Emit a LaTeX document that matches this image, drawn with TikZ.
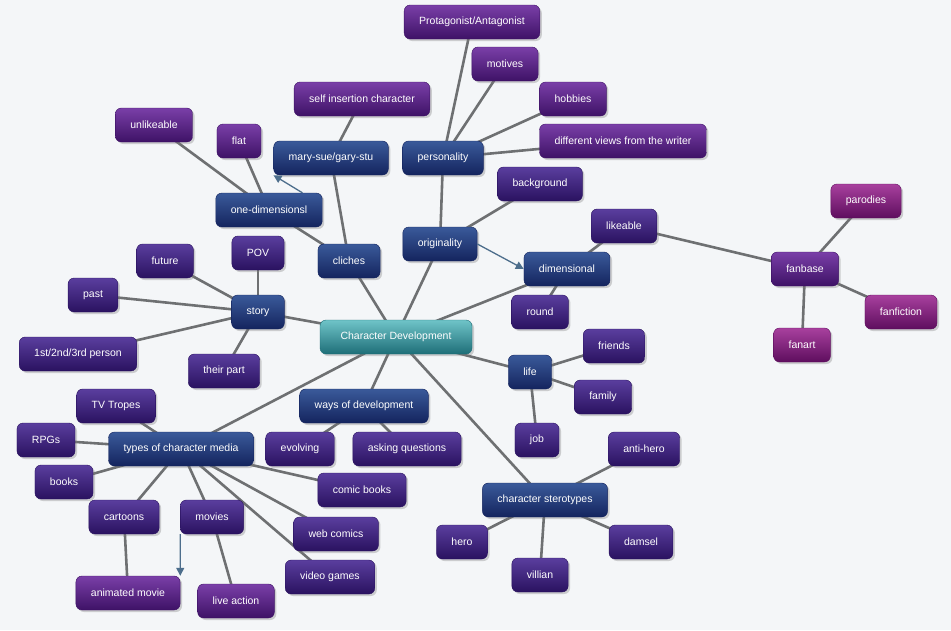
\documentclass[tikz,border=0pt]{standalone}
\usepackage{fontspec}
\setmainfont{Liberation Sans}
\usetikzlibrary{backgrounds,shadows,arrows.meta}
\definecolor{bgc}{HTML}{F4F6F8}
\definecolor{edge}{HTML}{6E7072}
\definecolor{arr}{HTML}{4D6E8C}
\definecolor{midT}{HTML}{3A5A9A}\definecolor{midB}{HTML}{14245E}
\definecolor{leafT}{HTML}{5A3E9E}\definecolor{leafB}{HTML}{2A1260}
\definecolor{leafpT}{HTML}{7A3FA8}\definecolor{leafpB}{HTML}{3E1266}
\definecolor{fanT}{HTML}{A8409E}\definecolor{fanB}{HTML}{5E0E5E}
\definecolor{cenT}{HTML}{6FC4C8}\definecolor{cenB}{HTML}{1E6E78}
\tikzset{
 box/.style={rounded corners=6pt,minimum height=34pt,inner xsep=15pt,text=white,font=\fontsize{10.5}{12}\selectfont,drop shadow={opacity=0.35,shadow xshift=2pt,shadow yshift=-2pt}},
 mid/.style={box,top color=midT,bottom color=midB,draw=midB},
 leaf/.style={box,top color=leafT,bottom color=leafB,draw=leafB},
 leafp/.style={box,top color=leafpT,bottom color=leafpB,draw=leafpB},
 fan/.style={box,top color=fanT,bottom color=fanB,draw=fanB},
 center/.style={box,top color=cenT,bottom color=cenB,draw=cenB,minimum width=152pt},
 ln/.style={edge,line width=2.6pt},
 ar/.style={arr,line width=1.3pt,-{Triangle[length=8pt,width=8pt]}},
}
\begin{document}
\begin{tikzpicture}[x=1pt,y=-1pt]
\useasboundingbox (0,0) rectangle (951,630);
\node[leafp] (prot) at (472,22) {Protagonist/Antagonist};
\node[leafp] (mot) at (505,64) {motives};
\node[leafp] (hob) at (573,99) {hobbies};
\node[leafp] (diff) at (623,141) {different views from the writer};
\node[leafp] (self) at (362,99) {self insertion character};
\node[leafp] (unl) at (154,125) {unlikeable};
\node[leafp] (flat) at (239,141) {flat};
\node[mid] (mary) at (331,158) {mary-sue/gary-stu};
\node[mid] (pers) at (443,158) {personality};
\node[leaf] (back) at (540,184) {background};
\node[mid] (one) at (269,210) {one-dimensionsl};
\node[fan] (par) at (866,201) {parodies};
\node[leaf] (like) at (624,226) {likeable};
\node[mid] (orig) at (440,244) {originality};
\node[mid] (cli) at (349,261) {cliches};
\node[leaf] (pov) at (258,253) {POV};
\node[leaf] (fut) at (165,261) {future};
\node[mid] (dim) at (567,269) {dimensional};
\node[leafp] (fanb) at (805,269) {fanbase};
\node[leaf] (past) at (93,295) {past};
\node[mid] (story) at (258,312) {story};
\node[leaf] (round) at (540,312) {round};
\node[fan] (ffic) at (901,312) {fanfiction};
\node[center] (cd) at (396,337) {Character Development};
\node[fan] (fart) at (802,345) {fanart};
\node[leaf] (pers3) at (78,354) {1st/2nd/3rd person};
\node[leaf] (fri) at (614,346) {friends};
\node[leaf] (their) at (224,371) {their part};
\node[mid] (life) at (530,372) {life};
\node[leaf] (fam) at (603,397) {family};
\node[leaf] (tv) at (116,406) {TV Tropes};
\node[mid] (ways) at (364,406) {ways of development};
\node[leaf] (rpg) at (46,440) {RPGs};
\node[mid] (types) at (181,449) {types of character media};
\node[leaf] (evo) at (300,449) {evolving};
\node[leaf] (ask) at (407,449) {asking questions};
\node[leaf] (job) at (537,440) {job};
\node[leaf] (anti) at (644,449) {anti-hero};
\node[leaf] (books) at (64,482) {books};
\node[leaf] (comic) at (362,490) {comic books};
\node[mid] (ster) at (545,500) {character sterotypes};
\node[leaf] (cart) at (124,517) {cartoons};
\node[leaf] (mov) at (212,517) {movies};
\node[leaf] (web) at (336,534) {web comics};
\node[leaf] (hero) at (462,542) {hero};
\node[leaf] (dam) at (641,542) {damsel};
\node[leaf] (vil) at (540,575) {villian};
\node[leaf] (vid) at (330,577) {video games};
\node[leafp] (anim) at (128,593) {animated movie};
\node[leafp] (live) at (236,601) {live action};
\begin{scope}[on background layer]
\fill[bgc] (0,0) rectangle (951,630);
\draw[ln] (cd.center)--(story.center) (cd.center)--(cli.center) (cd.center)--(orig.center)
 (cd.center)--(dim.center) (cd.center)--(life.center) (cd.center)--(ways.center)
 (cd.center)--(types.center) (cd.center)--(ster.center);
\foreach \n in {pov,fut,past,pers3,their} \draw[ln] (story.center)--(\n.center);
\draw[ln] (cli.center)--(one.center) (cli.center)--(mary.center) (one.center)--(unl.center) (one.center)--(flat.center) (mary.center)--(self.center);
\draw[ln] (orig.center)--(pers.center) (orig.center)--(back.center);
\foreach \n in {prot,mot,hob,diff} \draw[ln] (pers.center)--(\n.center);
\draw[ln] (dim.center)--(like.center) (dim.center)--(round.center) (like.center)--(fanb.center);
\foreach \n in {par,ffic,fart} \draw[ln] (fanb.center)--(\n.center);
\foreach \n in {fri,fam,job} \draw[ln] (life.center)--(\n.center);
\draw[ln] (ways.center)--(evo.center) (ways.center)--(ask.center);
\foreach \n in {tv,rpg,books,cart,mov,comic,web,vid} \draw[ln] (types.center)--(\n.center);
\draw[ln] (cart.center)--(anim.center) (mov.center)--(live.center);
\foreach \n in {anti,hero,vil,dam} \draw[ln] (ster.center)--(\n.center);
\end{scope}
\draw[ar] (one.north east)++(-20,0) -- (mary.south west);
\draw[ar] (orig.east) -- (dim.west);
\draw[ar] (mov.south west) -- (anim.north east);
\end{tikzpicture}
\end{document}
